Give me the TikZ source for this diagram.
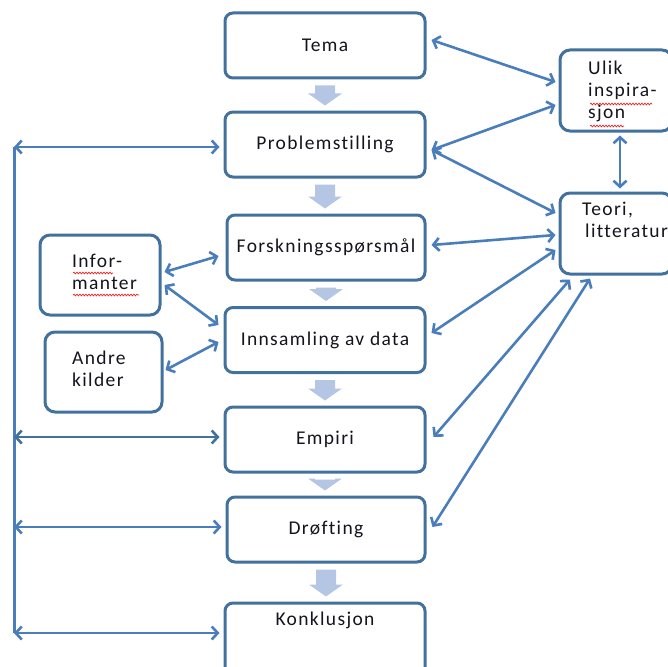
\documentclass[tikz,border=0pt]{standalone}
\usepackage{fontspec}
\setmainfont{Carlito}[LetterSpace=7,Ligatures={NoCommon}]
\usetikzlibrary{arrows.meta,calc,decorations.pathmorphing}
\definecolor{boxc}{RGB}{65,113,156}
\definecolor{arrc}{RGB}{74,126,187}
\definecolor{blockc}{RGB}{180,198,228}
\definecolor{wavyc}{RGB}{230,40,40}
\definecolor{txtc}{RGB}{20,20,30}
\newcommand\blockarr[2]{\fill[blockc] let \p1=($(#1.south)+(0,6)$), \p2=($(#2.north)+(0,-5)$) in
  (\x1-10pt,\y1) -- (\x1+10pt,\y1) -- (\x1+10pt,\y2+12pt) -- (\x1+17pt,\y2+12pt) -- (\x1,\y2) -- (\x1-17pt,\y2+12pt) -- (\x1-10pt,\y2+12pt) -- cycle;}
\begin{document}
\begin{tikzpicture}[x=1pt,y=-1pt,
  box/.style={draw=boxc,line width=3pt,rounded corners=8pt,fill=white,minimum width=200pt,minimum height=65pt,inner sep=0pt,text=txtc,font=\fontsize{19.5}{22}\selectfont},
  sbox/.style={draw=boxc,line width=3pt,rounded corners=10pt,fill=white,inner sep=0pt},
  lbl/.style={font=\fontsize{19.5}{22}\selectfont,text=txtc,inner sep=0pt,align=left},
  conn/.style={draw=arrc,line width=2.6pt,{Straight Barb[length=6pt,width=13pt]}-{Straight Barb[length=6pt,width=13pt]}},
  vline/.style={draw=arrc,line width=3pt},
  wav/.style={draw=wavyc,line width=0.7pt,decorate,decoration={snake,amplitude=0.9pt,segment length=3pt}}]
\useasboundingbox (0,0) rectangle (668,666);
\clip (0,0) rectangle (668,666);
% main boxes
\node[box] (tema) at (325,45.5) {Tema};
\node[box] (prob) at (325,144.5) {Problemstilling};
\node[box,minimum width=198pt] (forsk) at (326,247.5) {Forskningsspørsmål};
\node[box] (inns) at (325,340) {Innsamling av data};
\node[box] (emp) at (325,439.5) {Empiri};
\node[box,minimum width=198pt] (drof) at (326,529.5) {Drøfting};
\node[box,minimum height=80pt] (konk) at (325,643) {};
\node[lbl] (konkt) at (325,620) {Konklusjon};
% side boxes
\node[sbox,minimum width=112pt,minimum height=81pt] (ulik) at (616,90.5) {};
\node[lbl,anchor=north west] (ulikt) at (588,61) {Ulik\\inspira-\\sjon};
\node[sbox,minimum width=112pt,minimum height=81pt] (teori) at (616,233.5) {};
\node[lbl,anchor=north west] (teorit) at (582,202) {Teori,\\\hspace*{3pt}litteratur};
\node[sbox,minimum width=120pt,minimum height=80pt] (infor) at (100,275) {};
\node[lbl,anchor=north west] (infort) at (72,254) {Infor-\\manter};
\node[sbox,minimum width=117pt,minimum height=80pt] (andre) at (103.5,372) {};
\node[lbl,anchor=north west] (andret) at (72,351) {Andre\\kilder};
% wavy underlines
\draw[wav] (590,104) -- (652,104);
\draw[wav] (590,126) -- (624,126);
\draw[wav] (73,273) -- (113,273);
\draw[wav] (73,295) -- (139,295);
% block arrows
\blockarr{tema}{prob}
\blockarr{prob}{forsk}
\blockarr{forsk}{inns}
\blockarr{inns}{emp}
\blockarr{emp}{drof}
\blockarr{drof}{konk}
% right connectors
\draw[conn] ($(tema.east)+(5,-5.5)$) -- ($(ulik.west)+(-3,-8.5)$);
\draw[conn] ($(prob.east)+(5,5.5)$) -- ($(ulik.west)+(-3,14.5)$);
\draw[conn] ($(prob.east)+(5,5.5)$) -- ($(teori.west)+(-3,-20.5)$);
\draw[conn] ($(ulik.south)+(4,3)$) -- ($(teori.north)+(4,-3)$);
\draw[conn] ($(forsk.east)+(5,-2.5)$) -- ($(teori.west)+(-3,1.5)$);
\draw[conn] ($(inns.east)+(5,-7)$) -- ($(teori.west)+(-3,16.5)$);
\draw[conn] ($(emp.east)+(7,-2.5)$) -- ($(teori.south)+(-46,4)$);
\draw[conn] ($(drof.east)+(6,-2.5)$) -- ($(teori.south)+(-26,3)$);
% left connectors
\draw[conn] ($(infor.east)+(3,-3)$) -- ($(forsk.west)+(-7,8.5)$);
\draw[conn] ($(infor.east)+(3,10)$) -- ($(inns.west)+(-5,-15)$);
\draw[conn] ($(andre.east)+(2,-2)$) -- ($(inns.west)+(-5,2)$);
% left feedback line
\coordinate (L1) at (14,147);
\coordinate (Le) at (14,437);
\coordinate (Ld) at (14,527);
\coordinate (L2) at (14,633);
\draw[vline] (L1) -- (L2);
\draw[conn] (L1) -- ($(prob.west|-L1)+(-4,0)$);
\draw[conn,draw=boxc] (Le) -- ($(emp.west|-Le)+(-4,0)$);
\draw[conn] (Ld) -- ($(drof.west|-Ld)+(-4,0)$);
\draw[conn] (L2) -- ($(konk.west|-L2)+(-4,0)$);
\end{tikzpicture}
\end{document}
